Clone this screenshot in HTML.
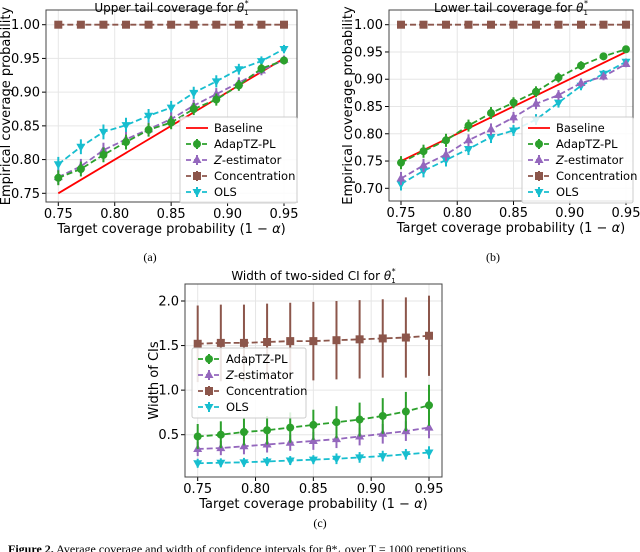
<!DOCTYPE html>
<html><head><meta charset="utf-8"><style>
body{margin:0;background:#fff;}
svg{display:block;font-family:"DejaVu Sans","Liberation Sans",sans-serif;}
</style></head><body>
<svg id="fig" width="640" height="552" viewBox="0 0 640 552" xmlns="http://www.w3.org/2000/svg">
<text x="150" y="261" font-family="Liberation Serif,serif" font-size="12" text-anchor="middle">(a)</text>
<text x="493" y="261" font-family="Liberation Serif,serif" font-size="12" text-anchor="middle">(b)</text>
<text x="320" y="527" font-family="Liberation Serif,serif" font-size="12" text-anchor="middle">(c)</text>
<text x="8" y="553" font-family="Liberation Serif,serif" font-size="12"><tspan font-weight="bold">Figure 2.</tspan> Average coverage and width of confidence intervals for θ*₁ over T = 1000 repetitions.</text>
</svg>
<script>
const xVals=[0.75,0.77,0.79,0.81,0.83,0.85,0.87,0.89,0.91,0.93,0.95];
const xTicks=[0.75,0.80,0.85,0.90,0.95];
const seriesNames=["Baseline","AdapTZ-PL","Z-estimator","Concentration","OLS"];
const aAdap=[0.773,0.786,0.807,0.826,0.844,0.855,0.875,0.889,0.910,0.935,0.947];
const aZ=[0.774,0.790,0.814,0.830,0.845,0.860,0.880,0.897,0.914,0.932,0.948];
const aConc=[1,1,1,1,1,1,1,1,1,1,1];
const aOls=[0.793,0.819,0.841,0.851,0.865,0.877,0.899,0.916,0.934,0.946,0.964];
const aErr=[0.011,0.011,0.011,0.011,0.010,0.010,0.009,0.009,0.008,0.007,0.006];
const aTicks=[0.75,0.80,0.85,0.90,0.95,1.00];
const bAdap=[0.747,0.768,0.788,0.815,0.838,0.857,0.877,0.903,0.925,0.942,0.955];
const bZ=[0.718,0.742,0.762,0.788,0.808,0.830,0.855,0.871,0.893,0.905,0.928];
const bConc=[1,1,1,1,1,1,1,1,1,1,1];
const bOls=[0.708,0.732,0.752,0.772,0.794,0.806,0.826,0.857,0.888,0.910,0.932];
const bErr=[0.012,0.012,0.012,0.011,0.011,0.010,0.010,0.009,0.008,0.007,0.006];
const bTicks=[0.70,0.75,0.80,0.85,0.90,0.95,1.00];
const cAdap=[0.48,0.50,0.53,0.55,0.58,0.61,0.64,0.67,0.71,0.76,0.83];
const cAdapErr=[0.14,0.15,0.15,0.16,0.17,0.17,0.18,0.19,0.20,0.22,0.23];
const cZ=[0.34,0.35,0.37,0.39,0.41,0.43,0.45,0.48,0.51,0.54,0.58];
const cZErr=[0.08,0.08,0.09,0.09,0.09,0.10,0.10,0.10,0.11,0.11,0.12];
const cConc=[1.52,1.53,1.53,1.54,1.55,1.55,1.56,1.57,1.58,1.59,1.61];
const cConcErr=[0.43,0.43,0.43,0.43,0.43,0.44,0.44,0.44,0.44,0.45,0.45];
const cOls=[0.18,0.185,0.19,0.20,0.21,0.22,0.23,0.245,0.26,0.28,0.30];
const cOlsErr=[0.05,0.05,0.05,0.05,0.05,0.05,0.06,0.06,0.06,0.06,0.07];
const cTicks=[0.5,1.0,1.5,2.0];

const NS="http://www.w3.org/2000/svg";
const svg=document.getElementById('fig');
const COL={Baseline:"#ff0000","AdapTZ-PL":"#2ca02c","Z-estimator":"#9467bd",Concentration:"#8c564b",OLS:"#17becf"};
function mk(tag,attrs,parent){const e=document.createElementNS(NS,tag);for(const k in attrs)e.setAttribute(k,attrs[k]);(parent||svg).appendChild(e);return e;}
function marker(g,kind,x,y,c){
  if(kind==="Concentration"){mk('rect',{x:x-4,y:y-4,width:8,height:8,fill:c},g);}
  else if(kind==="AdapTZ-PL"){mk('circle',{cx:x,cy:y,r:4,fill:c},g);}
  else if(kind==="Z-estimator"){mk('polygon',{points:`${x},${y-5} ${x+4.5},${y+3} ${x-4.5},${y+3}`,fill:c},g);}
  else if(kind==="OLS"){mk('polygon',{points:`${x},${y+5} ${x+4.5},${y-3} ${x-4.5},${y-3}`,fill:c},g);}
}
function plot(o){
  const g=mk('g',{});
  
  
  const sx=v=>o.x0+(v-0.75)/0.2*(o.x1-o.x0);
  const sy=v=>o.yB-(v-o.vB)/(o.vT-o.vB)*(o.yB-o.yT);
  xTicks.forEach(t=>{mk('line',{x1:sx(t),x2:sx(t),y1:o.top,y2:o.bot,stroke:"#e6e6e6","stroke-width":1},g);});
  o.yTicks.forEach(t=>{mk('line',{x1:o.left,x2:o.right,y1:sy(t),y2:sy(t),stroke:"#e6e6e6","stroke-width":1},g);});
  xTicks.forEach(t=>{mk('line',{x1:sx(t),x2:sx(t),y1:o.bot,y2:o.bot+4,stroke:"#000"},g);
    const tx=mk('text',{x:sx(t),y:o.bot+16,"font-size":13,"text-anchor":"middle"},g);tx.textContent=t.toFixed(2);
    
    });
  o.yTicks.forEach(t=>{mk('line',{x1:o.left-4,x2:o.left,y1:sy(t),y2:sy(t),stroke:"#000"},g);
    const tx=mk('text',{x:o.left-6,y:sy(t)+4.5,"font-size":13,"text-anchor":"end"},g);tx.textContent=t.toFixed(o.dec);
    
    });
  o.series.forEach(s=>{
    const c=COL[s.n];
    const sg=mk('g',{},g);
    
    
    if(s.n==="Baseline"){mk('line',{x1:sx(0.75),y1:sy(0.75),x2:sx(0.95),y2:sy(0.95),stroke:c,"stroke-width":1.8},sg);return;}
    const pts=xVals.map((x,i)=>sx(x)+","+sy(s.v[i])).join(" ");
    mk('polyline',{points:pts,fill:"none",stroke:c,"stroke-width":1.8,"stroke-dasharray":"6,3"},sg);
    xVals.forEach((x,i)=>{
      const e=s.e?s.e[i]:0;
      if(e)mk('line',{x1:sx(x),x2:sx(x),y1:sy(s.v[i]-e),y2:sy(s.v[i]+e),stroke:c,"stroke-width":2},sg);
      marker(sg,s.n,sx(x),sy(s.v[i]),c);
    });
  });
  mk('rect',{x:o.left,y:o.top,width:o.right-o.left,height:o.bot-o.top,fill:"none",stroke:"#444","stroke-width":1},g);
  const L=o.leg;
  const lg=mk('g',{},g);
  
  
  mk('rect',{x:L.x,y:L.y,width:L.w,height:L.names.length*16+6,fill:"#fff","fill-opacity":0.85,stroke:"#ccc",rx:2},lg);
  L.names.forEach((n,i)=>{
    const yy=L.y+11+i*16,c=COL[n];
    if(n==="Baseline")mk('line',{x1:L.x+6,x2:L.x+28,y1:yy,y2:yy,stroke:c,"stroke-width":1.8},lg);
    else{mk('line',{x1:L.x+6,x2:L.x+28,y1:yy,y2:yy,stroke:c,"stroke-width":1.8,"stroke-dasharray":"5,3"},lg);
      mk('line',{x1:L.x+17,x2:L.x+17,y1:yy-5,y2:yy+5,stroke:c,"stroke-width":2},lg);marker(lg,n,L.x+17,yy,c);}
    const t=mk('text',{x:L.x+34,y:yy+4,"font-size":11.5},lg);
    if(n==="Z-estimator"){t.innerHTML='<tspan font-style="italic">Z</tspan>-estimator';}else t.textContent=n;
    
    
  });
  const tt=mk('text',{x:(o.left+o.right)/2,y:o.top+o.tdy,"font-size":12,"text-anchor":"middle"},g);
  tt.innerHTML=o.title+' <tspan font-style="italic">θ</tspan><tspan font-size="7" dy="3">1</tspan><tspan font-size="8" dx="-4" dy="-9">*</tspan>';
  
  
  const xt=mk('text',{x:(o.left+o.right)/2,y:o.bot+31,"font-size":13,"text-anchor":"middle"},g);
  xt.innerHTML='Target coverage probability (1 − <tspan font-style="italic">α</tspan>)';
  
  
  const yt=mk('text',{x:0,y:0,"font-size":13,"text-anchor":"middle",transform:`translate(${o.ylx},${(o.top+o.bot)/2}) rotate(-90)`},g);
  yt.textContent=o.ylabel;
  
  
}
plot({name:'chart-upper-tail',left:46,right:297,top:10,bot:202,x0:58.3,x1:284,yT:24.7,yB:193.3,vT:1.0,vB:0.75,yTicks:aTicks,dec:2,tdy:2,
  series:[{n:"Baseline"},{n:"Concentration",v:aConc},{n:"OLS",v:aOls,e:aErr},{n:"Z-estimator",v:aZ,e:aErr},{n:"AdapTZ-PL",v:aAdap,e:aErr}],
  leg:{x:180,y:117,w:117,names:seriesNames},title:"Upper tail coverage for",ylabel:"Empirical coverage probability",ylx:10});
plot({name:'chart-lower-tail',left:389,right:633,top:10,bot:201,x0:401,x1:626,yT:24.7,yB:188.3,vT:1.0,vB:0.70,yTicks:bTicks,dec:2,tdy:2,
  series:[{n:"Baseline"},{n:"Concentration",v:bConc},{n:"OLS",v:bOls,e:bErr},{n:"Z-estimator",v:bZ,e:bErr},{n:"AdapTZ-PL",v:bAdap,e:bErr}],
  leg:{x:522,y:117,w:111,names:seriesNames},title:"Lower tail coverage for",ylabel:"Empirical coverage probability",ylx:352});
plot({name:'chart-width',left:185,right:442,top:284,bot:477,x0:197.7,x1:429,yT:301,yB:434.7,vT:2.0,vB:0.5,yTicks:cTicks,dec:1,tdy:-4,
  series:[{n:"Concentration",v:cConc,e:cConcErr},{n:"OLS",v:cOls,e:cOlsErr},{n:"Z-estimator",v:cZ,e:cZErr},{n:"AdapTZ-PL",v:cAdap,e:cAdapErr}],
  leg:{x:192,y:348,w:114,names:["AdapTZ-PL","Z-estimator","Concentration","OLS"]},title:"Width of two-sided CI for",ylabel:"Width of CIs",ylx:158});
</script>
</body></html>
